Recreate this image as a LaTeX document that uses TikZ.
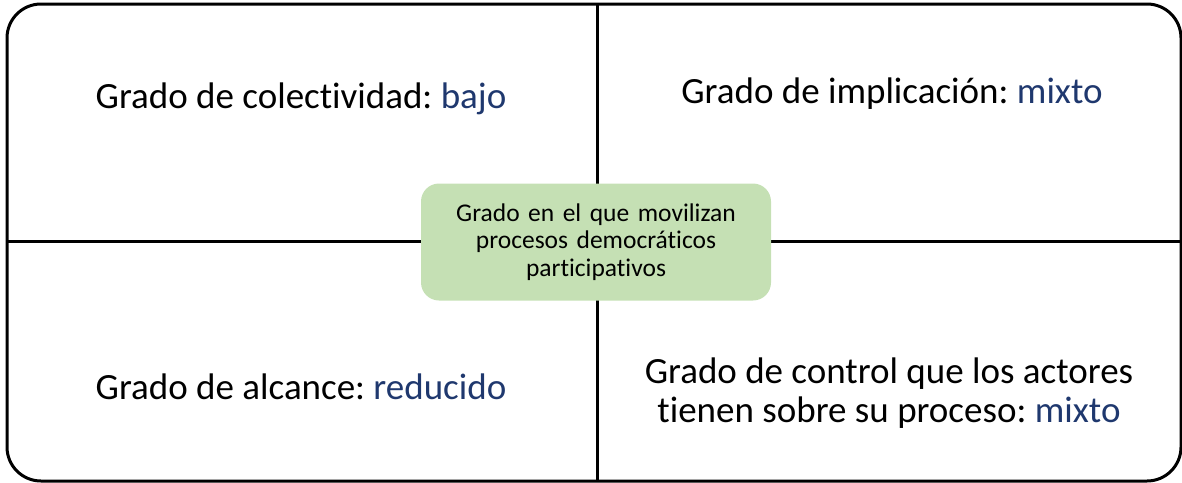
\documentclass[tikz,border=0pt]{standalone}
\usepackage{fontspec}
\setmainfont{Carlito}[Ligatures=NoCommon]
\usepackage{tikz}
\usetikzlibrary{positioning}
\definecolor{sagegreen}{RGB}{197,224,180}
\definecolor{navyblue}{RGB}{31,56,110}
\frenchspacing

\begin{document}
\begin{tikzpicture}[x=1pt, y=-1pt]
    \tikzstyle{frame} = [line width=3pt, draw=black]
    \tikzstyle{quadtext} = [align=center, inner sep=0pt, font=\fontsize{37}{38.5}\selectfont]
    \tikzstyle{hubbox} = [rectangle, rounded corners=18pt, fill=sagegreen, minimum width=350pt, minimum height=117pt, text width=340pt, align=center, font=\fontsize{25.5}{27.5}\selectfont]

    \useasboundingbox (0,0) rectangle (1182,482);

    % outer frame and dividers
    \coordinate (topmid) at (597,4);
    \coordinate (botmid) at (597,481);
    \coordinate (leftmid) at (7,241);
    \coordinate (rightmid) at (1181,241);
    \draw [frame, rounded corners=34pt] (7,4) rectangle (1181,481);
    \draw [frame] (topmid) -- (botmid);
    \draw [frame] (leftmid) -- (rightmid);

    \node (hub) [hubbox] at (596,242) {Grado en el que movilizan\\procesos democráticos\\participativos};

    \node (quad1) [quadtext] at (301,99) {Grado de colectividad: \textcolor{navyblue}{bajo}};
    \node (quad2) [quadtext] at (892,94) {Grado de implicación: \textcolor{navyblue}{mixto}};
    \node (quad3) [quadtext] at (301,387) {Grado de alcance: \textcolor{navyblue}{reducido}};
    \node (quad4) [quadtext] at (889,393) {Grado de control que los actores\\tienen sobre su proceso: \textcolor{navyblue}{mixto}};
\end{tikzpicture}
\end{document}
